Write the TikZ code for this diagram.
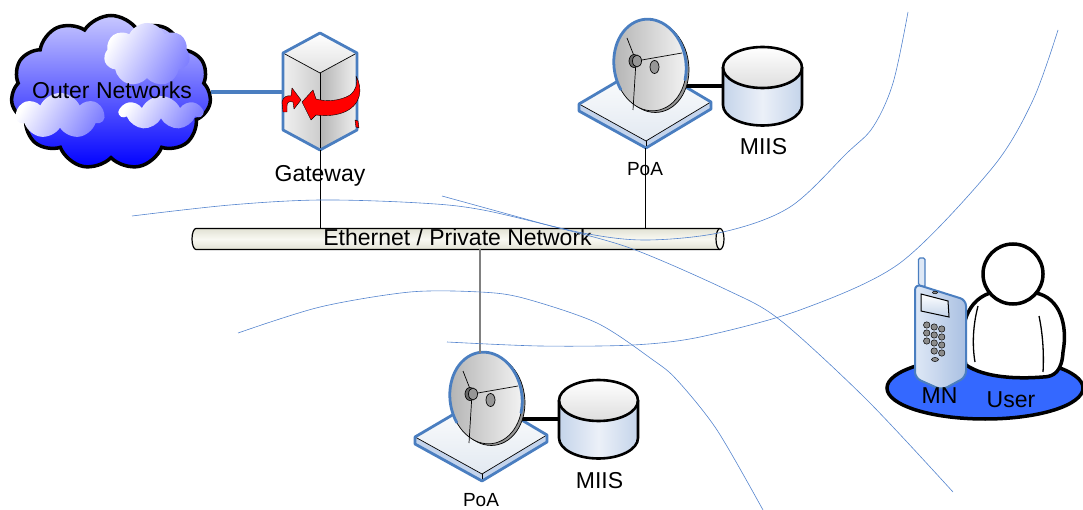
\documentclass[tikz,border=0pt]{standalone}
\usepackage{fontspec}
\setmainfont{Liberation Sans}
\usetikzlibrary{shapes.geometric,shapes.symbols}

\definecolor{edgeblue}{RGB}{74,126,192}
\definecolor{wave}{RGB}{84,132,206}
\definecolor{mnblue}{RGB}{52,104,255}
\definecolor{cloudtop}{RGB}{200,200,255}
\definecolor{cloudbot}{RGB}{0,0,255}
\definecolor{puffblue}{RGB}{128,128,255}
\definecolor{boxlight}{RGB}{240,240,240}
\definecolor{boxmid}{RGB}{205,205,205}
\definecolor{boxdark}{RGB}{180,180,180}
\definecolor{platetop}{RGB}{226,233,241}
\definecolor{plateside}{RGB}{196,212,236}
\definecolor{dishlight}{RGB}{245,245,245}
\definecolor{dishdark}{RGB}{178,178,178}
\definecolor{dishback}{RGB}{150,150,150}
\definecolor{hubgray}{RGB}{150,150,150}
\definecolor{cylside}{RGB}{196,212,234}
\definecolor{cylmid}{RGB}{236,240,248}
\definecolor{cyltop}{RGB}{222,222,222}
\definecolor{tubeedge}{RGB}{226,226,212}
\definecolor{tubemid}{RGB}{248,248,242}
\definecolor{phonelight}{RGB}{222,232,246}
\definecolor{phonedark}{RGB}{170,192,226}
\definecolor{keygray}{RGB}{140,140,140}

\tikzset{
  ghost/.style={inner sep=0pt, outer sep=0pt, draw=none},
  lbl/.style={font=\fontsize{23}{26}\selectfont, inner sep=0pt, anchor=base},
  lblsmall/.style={font=\fontsize{19}{22}\selectfont, inner sep=0pt, anchor=base},
  wavecurve/.style={draw=wave, line width=0.6pt},
  blueedge/.style={draw=edgeblue, line width=2.8pt, line join=round},
  thinedge/.style={draw=black, line width=0.7pt},
  uplink/.style={draw=edgeblue, line width=4pt},
  drop/.style={draw=black, line width=0.8pt},
  droplow/.style={draw=gray, line width=1.5pt},
  dblink/.style={draw=black, line width=4.5pt},
  cyledge/.style={draw=black, line width=2.6pt},
  puff/.style={cloud, cloud puffs=7, cloud puff arc=130, cloud ignores aspect,
    draw=none, shading=axis, left color=white, right color=puffblue, shading angle=60},
  redarrow/.style={fill=red, draw=black, line width=0.4pt, line join=round},
}

% point of attachment: mounting plate, dish and information server
% #1 name prefix, #2/#3 offset, #4 baseline of the PoA caption
\newcommand{\poaunit}[4]{%
\begin{scope}[shift={(#2,#3)}]
  \node[ghost, minimum width=72, minimum height=92] (#1-dish) at (650,65) {};
  \node[ghost, minimum width=79, minimum height=78] (#1-miis) at (762.5,86) {};
  \node[ghost, minimum width=132, minimum height=84] (#1-base) at (645,106) {};
  \coordinate (#1-top) at (644,20);
  % mounting plate
  \fill[plateside] (579,104) -- (646,141) -- (711,102) -- (711,109) -- (646,148) -- (579,111) -- cycle;
  \shade[top color=white, bottom color=platetop] (579,104) -- (647,64) -- (711,102) -- (646,141) -- cycle;
  \draw[thinedge] (580,104.5) -- (646,141) -- (710,102.5);
  \draw[thinedge] (646,141) -- (646,148);
  \draw[blueedge] (579,104) -- (647,64) -- (711,102) -- (711,109) -- (646,148) -- (579,111) -- cycle;
  % link to the information server
  \draw[dblink] (#1-miis.west) -- (#1-miis.west -| #1-dish.east);
  % dish
  \begin{scope}[shift={(650,65)}, rotate=8]
    \filldraw[fill=dishback, thinedge] (2.5,2) ellipse[x radius=36, y radius=46];
    \shade[left color=dishdark, right color=dishlight] (0,0) ellipse[x radius=36, y radius=46];
    \draw[thinedge] (0,0) ellipse[x radius=36, y radius=46];
    \draw[blueedge, line cap=round] (154:36 and 46) arc[start angle=154, end angle=385, x radius=36, y radius=46];
  \end{scope}
  \draw[thinedge] (627,38) -- (636,61) -- (682,53);
  \draw[thinedge] (636,61) -- (633,110);
  \filldraw[fill=hubgray!70!black, thinedge] (634,61) ellipse[x radius=5, y radius=6.5];
  \filldraw[fill=hubgray, thinedge] (637,61) ellipse[x radius=4.5, y radius=6];
  \filldraw[fill=hubgray, thinedge] (654.5,67) ellipse[x radius=4.5, y radius=6.5];
  % information server
  \shade[left color=cylside, right color=cylside, middle color=cylmid] (723,67.5) -- (723,105)
     arc[start angle=180, end angle=0, x radius=39.5, y radius=20.5] -- (802,67.5) -- cycle;
  \shade[top color=white, bottom color=cyltop] (762.5,67.5) ellipse[x radius=39.5, y radius=20.5];
  \draw[cyledge] (723,67.5) -- (723,105)
     arc[start angle=180, end angle=0, x radius=39.5, y radius=20.5] -- (802,67.5);
  \draw[cyledge] (762.5,67.5) ellipse[x radius=39.5, y radius=20.5];
  \node[lbl] (#1-miislabel) at (763.5,155) {MIIS};
  \node[lblsmall] (#1-label) at (645,#4) {PoA};
\end{scope}}

\begin{document}
\begin{tikzpicture}[x=1pt, y=-1pt]
\useasboundingbox (0,0) rectangle (1083,510);

% outer networks cloud
\node[cloud, cloud puffs=11, cloud puff arc=115, cloud ignores aspect,
      minimum width=200, minimum height=154, draw=black, line width=3.5pt,
      top color=cloudtop, bottom color=cloudbot] (cloudnet) at (111,92.5) {};
\node[puff, minimum width=86, minimum height=64] (puffA) at (147,55) {};
\node[puff, minimum width=88, minimum height=46] (puffB) at (60,116) {};
\node[puff, minimum width=82, minimum height=34] (puffC) at (161,113) {};
\node[lbl] (cloudtext) at (112,99) {Outer Networks};

% gateway box
\node[ghost, minimum width=74, minimum height=117] (gw) at (320,91.5) {};
\draw[uplink] (cloudnet.east) -- (cloudnet.east -| gw.west);
\shade[left color=boxlight, right color=boxmid] (283,53) -- (320,73) -- (320,150) -- (283,130) -- cycle;
\shade[left color=boxdark, right color=boxlight] (320,73) -- (357,53) -- (357,130) -- (320,150) -- cycle;
\shade[top color=white, bottom color=boxmid!60] (283,53) -- (320,33) -- (357,53) -- (320,73) -- cycle;
\draw[thinedge] (284,53.5) -- (320,73) -- (356,53.5);
\draw[thinedge] (320,73) -- (320,150);
\draw[blueedge] (320,33) -- (357,53) -- (357,130) -- (320,150) -- (283,130) -- (283,53) -- cycle;
% rotating arrows on the gateway
\filldraw[redarrow] (356,76) .. controls (363,88) and (362,106) .. (342,113)
   .. controls (333,116) and (324,116) .. (316,115) -- (311,120) -- (302,102) -- (313,90) -- (316,99)
   .. controls (326,102) and (340,101) .. (350,95) .. controls (356,90) and (358,84) .. (356,76) -- cycle;
\filldraw[redarrow] (283,112) -- (282,102) .. controls (283,97) and (287,95) .. (291,96) -- (292,88)
   -- (301,100) -- (294,109) -- (293,102) .. controls (289,101) and (287,102) .. (287,106) -- (287,112) -- cycle;
\filldraw[redarrow] (355,120) -- (358,121) -- (359,128) -- (356,127) -- cycle;
\node[lbl] (gwlabel) at (320,181.5) {Gateway};

% ethernet tube
\node[ghost, minimum width=532, minimum height=21] (lan) at (458,239) {};
\shade[top color=tubeedge, bottom color=tubeedge, middle color=tubemid] (720,228.5) -- (196,228.5)
   arc[start angle=270, end angle=90, x radius=4, y radius=10.5] -- (720,249.5)
   arc[start angle=90, end angle=-90, x radius=4, y radius=10.5] -- cycle;
\draw[line width=1.2pt] (720,228.5) -- (196,228.5)
   arc[start angle=270, end angle=90, x radius=4, y radius=10.5] -- (720,249.5);
\filldraw[fill=tubemid, line width=1.2pt] (720,239) ellipse[x radius=4, y radius=10.5];
\node[lbl] (lantext) at (457.5,246) {Ethernet / Private Network};

% the two points of attachment
\poaunit{top}{0}{0}{176}
\poaunit{low}{-164}{333}{173}

% drops onto the network
\draw[drop] (gw.south) -- (gw.south |- lan.north);
\draw[drop] (top-base.south) -- (top-base.south |- lan.north);
\draw[droplow] (low-top) -- (low-top |- lan.south);

% mobile node and user
\node[ellipse, draw=black, line width=3.5pt, fill=mnblue, minimum width=196, minimum height=62, inner sep=0pt] (mnbase) at (985,388) {};
\node[ghost, minimum width=52, minimum height=132] (mn) at (940.5,324) {};
\node[ghost, minimum width=105, minimum height=135] (user) at (1013,311) {};
\filldraw[fill=white, line width=3.5pt, line join=round] (966,365) .. controls (958,335) and (963,302) .. (990,293)
   -- (1036,293) .. controls (1060,298) and (1068,325) .. (1063,352)
   .. controls (1062,370) and (1055,377) .. (1043,377) .. controls (1018,379) and (985,378) .. (966,365) -- cycle;
\draw[line width=1.3pt] (978,306) .. controls (973,325) and (972,345) .. (975,362);
\draw[line width=1.3pt] (1039,316) .. controls (1043,335) and (1044,355) .. (1043,372);
\filldraw[fill=white, line width=3.5pt] (1013,274) circle[radius=30];
% handset
\filldraw[fill=phonelight, draw=edgeblue, line width=1.2pt, rounded corners=1.5pt] (918.5,285) -- (918.5,258) -- (925,258) -- (925,287) -- cycle;
\shadedraw[draw=edgeblue, line width=2pt, left color=phonelight, right color=phonedark, rounded corners=6pt]
   (915,378) -- (915,284) -- (966,300) -- (966,377) -- (942,390) -- cycle;
\shadedraw[top color=white, bottom color=cylside, line width=1pt] (921,294) -- (948,301) -- (949,317) -- (921,311) -- cycle;
\filldraw[fill=keygray, line width=0.5pt] (935,292.5) ellipse[x radius=2.5, y radius=1.3];
\foreach \c in {0,1,2} {
  \foreach \r in {0,1,2} {
    \filldraw[fill=keygray, line width=0.5pt] ({926.7+7.5*\c},{325+2*\c+8*\r}) circle[radius=3.2];
  }
}
\filldraw[fill=keygray, line width=0.5pt] (934.2,351) circle[radius=3.2];
\filldraw[fill=keygray, line width=0.5pt] (941.7,353) circle[radius=3.2];
\filldraw[fill=keygray, line width=0.5pt] (935,359.5) ellipse[x radius=3.5, y radius=2];
\node[lbl] (mnlabel) at (939.5,403) {MN};
\node[lbl] (userlabel) at (1011,407) {User};

% radio coverage boundaries
\draw[wavecurve] plot[smooth, tension=0.55] coordinates {(132,216) (230,205) (320,200) (420,203) (483,210) (583,233) (647,240) (723,232) (790,207) (847,153) (873,127) (893,83) (908,12)};
\draw[wavecurve] plot[smooth] coordinates {(442,196) (540,223) (630,248) (727,290) (780,320) (867,400) (953,492)};
\draw[wavecurve] plot[smooth] coordinates {(447,342) (540,346) (633,345) (700,337) (800,310) (900,263) (993,167) (1033,100) (1058,30)};
\draw[wavecurve] plot[smooth] coordinates {(238,333) (320,307) (410,292) (480,292) (523,298) (597,323) (653,360) (677,380) (717,430) (763,510)};
\end{tikzpicture}
\end{document}
